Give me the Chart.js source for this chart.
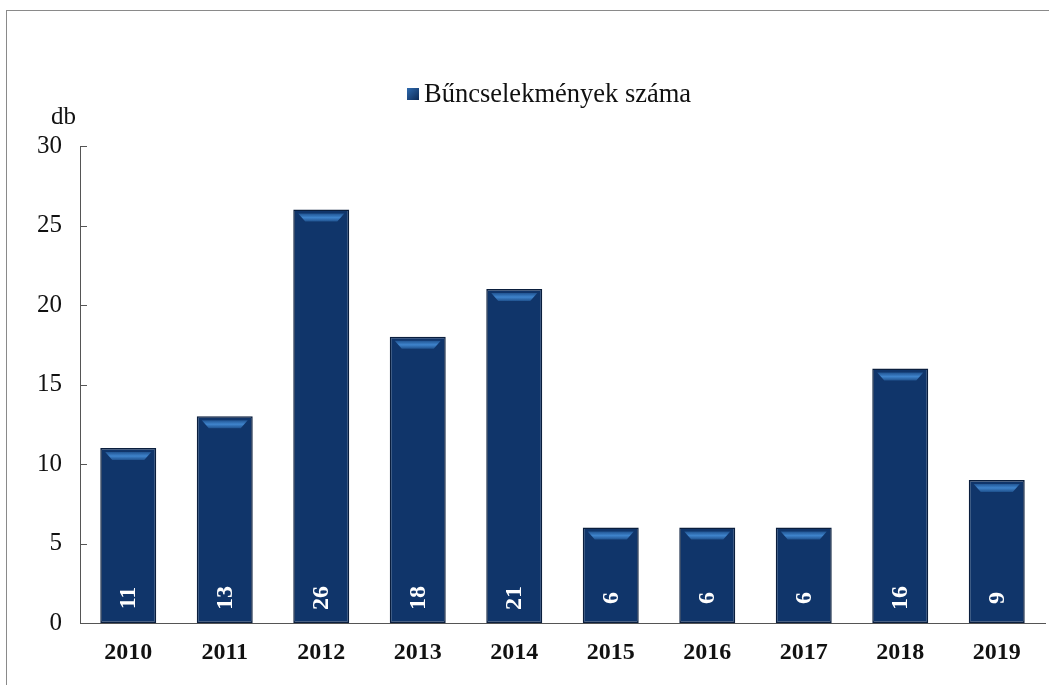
<!DOCTYPE html>
<html>
<head>
<meta charset="utf-8">
<script src="https://cdn.jsdelivr.net/npm/chart.js@4"></script>
<style>
  html, body { margin: 0; padding: 0; background: #fff; }
  #wrap { width: 1049px; height: 685px; position: relative; }
</style>
</head>
<body>
<div id="wrap"><canvas id="myChart" width="1049" height="685"></canvas></div>
<script>
'use strict';

const years = ['2010', '2011', '2012', '2013', '2014', '2015', '2016', '2017', '2018', '2019'];
const crimes = [11, 13, 26, 18, 21, 6, 6, 6, 16, 9];
const seriesName = 'Bűncselekmények száma';
const unitLabel = 'db';

const serif = '"Liberation Serif", "Times New Roman", serif';
const navy = '#10356a';

// frame, legend and unit label
const decor = {
    id: 'decor',
    beforeDraw(chart) {
        const c = chart.ctx;
        c.save();
        c.fillStyle = '#fff';
        c.fillRect(0, 0, chart.width, chart.height);
        c.strokeStyle = '#8a8a8a';
        c.lineWidth = 1;
        c.strokeRect(6.5, 10.5, chart.width + 10, chart.height + 10);
        c.restore();
    },
    afterDraw(chart) {
        const c = chart.ctx;
        c.save();
        const g = c.createLinearGradient(407, 88, 419, 100);
        g.addColorStop(0, '#2f6bb0');
        g.addColorStop(1, '#0d2a55');
        c.fillStyle = g;
        c.fillRect(407, 88, 12, 12);
        c.fillStyle = '#111';
        c.font = '26.5px ' + serif;
        c.textBaseline = 'middle';
        c.textAlign = 'left';
        c.fillText(seriesName, 424, 95);
        c.font = '25px ' + serif;
        c.fillText(unitLabel, 51, 117);

        // inner tick marks on y axis
        const y = chart.scales.y;
        c.strokeStyle = '#555';
        c.lineWidth = 1;
        y.ticks.forEach(t => {
            const py = Math.round(y.getPixelForValue(t.value)) + 0.5;
            c.beginPath();
            c.moveTo(y.right, py);
            c.lineTo(y.right + 7, py);
            c.stroke();
        });
        c.restore();
    }
};

// bevel highlight and rotated value labels
const barDeco = {
    id: 'barDeco',
    afterDatasetsDraw(chart) {
        const c = chart.ctx;
        const meta = chart.getDatasetMeta(0);
        c.save();
        meta.data.forEach((bar, i) => {
            const half = bar.width / 2;
            const l = bar.x - half, r = bar.x + half, top = bar.y;
            const g = c.createLinearGradient(0, top + 3, 0, top + 13);
            g.addColorStop(0, '#1a4a86');
            g.addColorStop(0.5, '#3f84cc');
            g.addColorStop(1, '#17457f');
            c.fillStyle = g;
            c.beginPath();
            c.moveTo(l + 5, top + 4);
            c.lineTo(r - 5, top + 4);
            c.lineTo(r - 12, top + 12);
            c.lineTo(l + 12, top + 12);
            c.closePath();
            c.fill();

            c.save();
            c.translate(bar.x, bar.base - 25);
            c.rotate(-Math.PI / 2);
            c.fillStyle = '#fff';
            c.font = 'bold 24px ' + serif;
            c.textAlign = 'center';
            c.textBaseline = 'middle';
            c.fillText(String(crimes[i]), 0, 1);
            c.restore();
        });
        c.restore();
    }
};

const ctx = document.getElementById('myChart');
new Chart(ctx, {
    type: 'bar',
    data: {
        labels: years,
        datasets: [{
            label: seriesName,
            data: crimes,
            backgroundColor: navy,
            borderColor: '#0a1e3d',
            borderWidth: 1.5,
            borderSkipped: false,
            categoryPercentage: 1,
            barPercentage: 0.58
        }]
    },
    options: {
        responsive: false,
        animation: false,
        layout: { padding: { left: 0, right: 4, top: 146, bottom: 0 } },
        plugins: {
            legend: { display: false },
            tooltip: { enabled: false }
        },
        scales: {
            x: {
                grid: { display: false, drawTicks: false },
                border: { display: true, color: '#555', width: 1 },
                ticks: {
                    color: '#111',
                    padding: 15,
                    font: { family: serif, size: 24, weight: 'bold' }
                },
                afterFit(scale) { scale.height = 62; }
            },
            y: {
                min: 0,
                max: 30,
                ticks: {
                    stepSize: 5,
                    color: '#111',
                    padding: 18,
                    font: { family: serif, size: 25 }
                },
                grid: { display: false, drawTicks: false },
                border: { display: true, color: '#555', width: 1 },
                afterFit(scale) { scale.width = 80; }
            }
        }
    },
    plugins: [decor, barDeco]
});
</script>
</body>
</html>
